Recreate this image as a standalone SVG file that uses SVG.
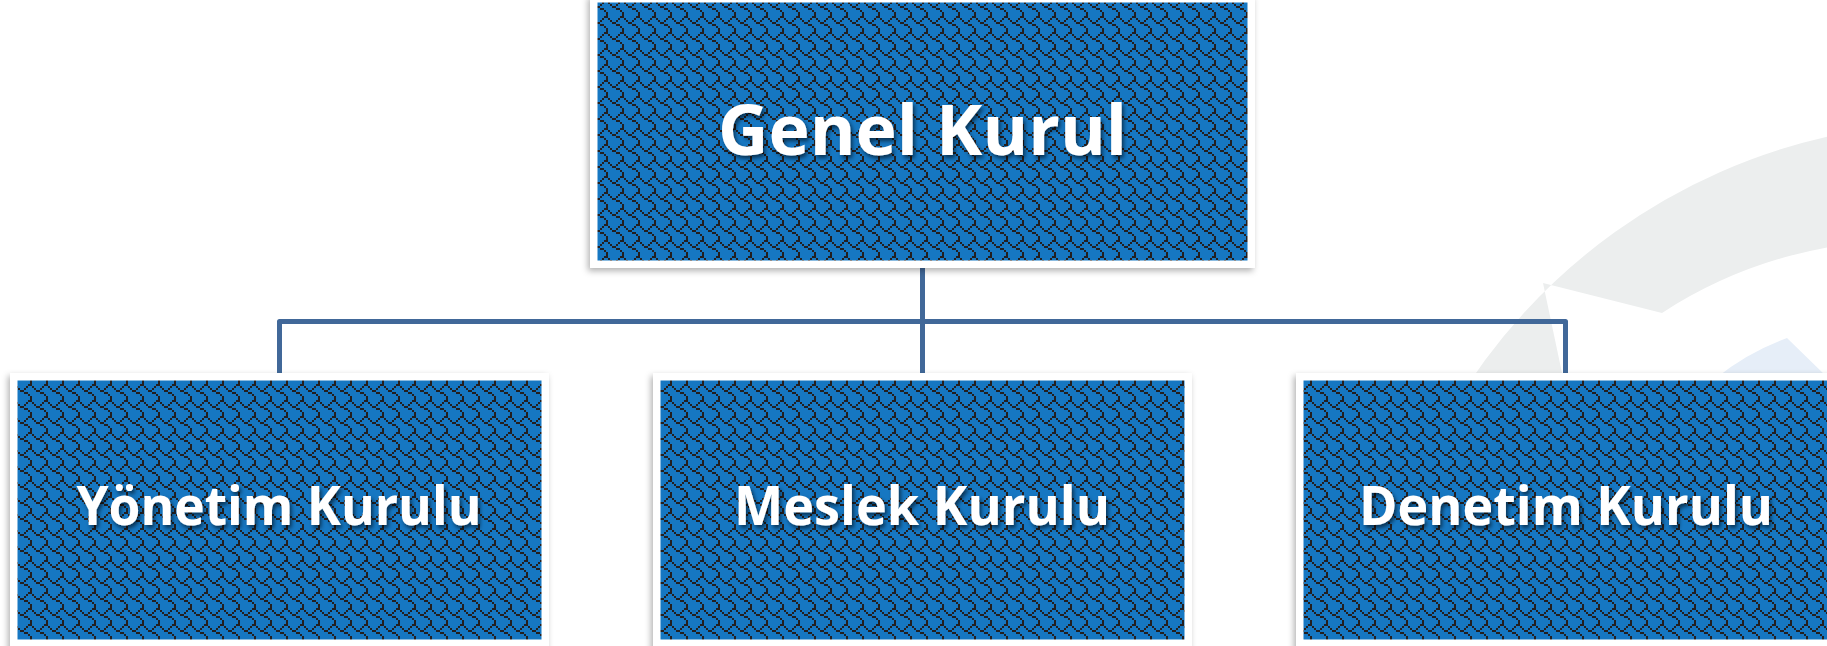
<svg xmlns="http://www.w3.org/2000/svg" width="1827" height="646" viewBox="0 0 1827 646">
<style>
.frame{fill:#ffffff;filter:url(#boxShadow)}
.fill{fill:url(#shingle)}
.lbl{font-family:"Open Sans","Noto Sans","Liberation Sans",sans-serif;font-weight:700;fill:#ffffff;text-anchor:middle;filter:url(#txtShadow)}
.conn{fill:none;stroke:#416899;stroke-width:5;stroke-linejoin:round}
</style>
<defs>
<pattern id="shingle" patternUnits="userSpaceOnUse" width="16" height="16" x="0" y="0">
<rect width="16" height="16" fill="#1677c2"/>
<path fill="#231f20" d="M12 0h4v2h-4z M0 2h2v2h-2z M10 2h2v2h-2z M2 4h2v2h-2z M8 4h2v2h-2z M4 6h4v2h-4z M8 8h4v2h-4z M12 10h2v2h-2z M14 12h2v4h-2z"/>
</pattern>
<filter id="boxShadow" x="-5%" y="-5%" width="110%" height="115%">
<feDropShadow dx="-2" dy="3" stdDeviation="3" flood-color="#000" flood-opacity="0.3"/>
</filter>
<filter id="txtShadow" x="-5%" y="-20%" width="110%" height="150%">
<feDropShadow dx="2" dy="3" stdDeviation="2" flood-color="#000" flood-opacity="0.6"/>
</filter>
</defs>
<rect width="1827" height="646" fill="#ffffff"/>
<g id="background">
<path fill="#eceeee" d="M1835 135 A586 586 0 0 0 1452 410 L1568 410 L1562 373 L1543 283 L1662 313 Q1740 262 1835 246 Z"/>
<path fill="#e6eef8" d="M1716 378 Q1748 352 1787 338 L1828 378 Z"/>
</g>
<g id="connectors">
<path class="conn" d="M922.5 268 V373"/>
<path class="conn" d="M279.5 373 V321.5 H1565.5 V373"/>
</g>
<g id="genel-kurul">
<rect class="frame" x="590" y="-5" width="665" height="273"/>
<rect class="fill" x="597.5" y="2.5" width="650" height="258"/>
<text class="lbl" x="922.5" y="155" font-size="70" textLength="409" lengthAdjust="spacingAndGlyphs">Genel Kurul</text>
</g>
<g id="yonetim-kurulu">
<rect class="frame" x="10" y="373" width="539" height="280"/>
<rect class="fill" x="17.5" y="380.5" width="524" height="259"/>
<text class="lbl" x="279" y="525" font-size="53" textLength="405" lengthAdjust="spacingAndGlyphs">Yönetim Kurulu</text>
</g>
<g id="meslek-kurulu">
<rect class="frame" x="653" y="373" width="539" height="280"/>
<rect class="fill" x="660.5" y="380.5" width="524" height="259"/>
<text class="lbl" x="922" y="525" font-size="53" textLength="376" lengthAdjust="spacingAndGlyphs">Meslek Kurulu</text>
</g>
<g id="denetim-kurulu">
<rect class="frame" x="1296" y="373" width="539" height="280"/>
<rect class="fill" x="1303.5" y="380.5" width="524" height="259"/>
<text class="lbl" x="1566" y="525" font-size="53" textLength="414" lengthAdjust="spacingAndGlyphs">Denetim Kurulu</text>
</g>
</svg>
